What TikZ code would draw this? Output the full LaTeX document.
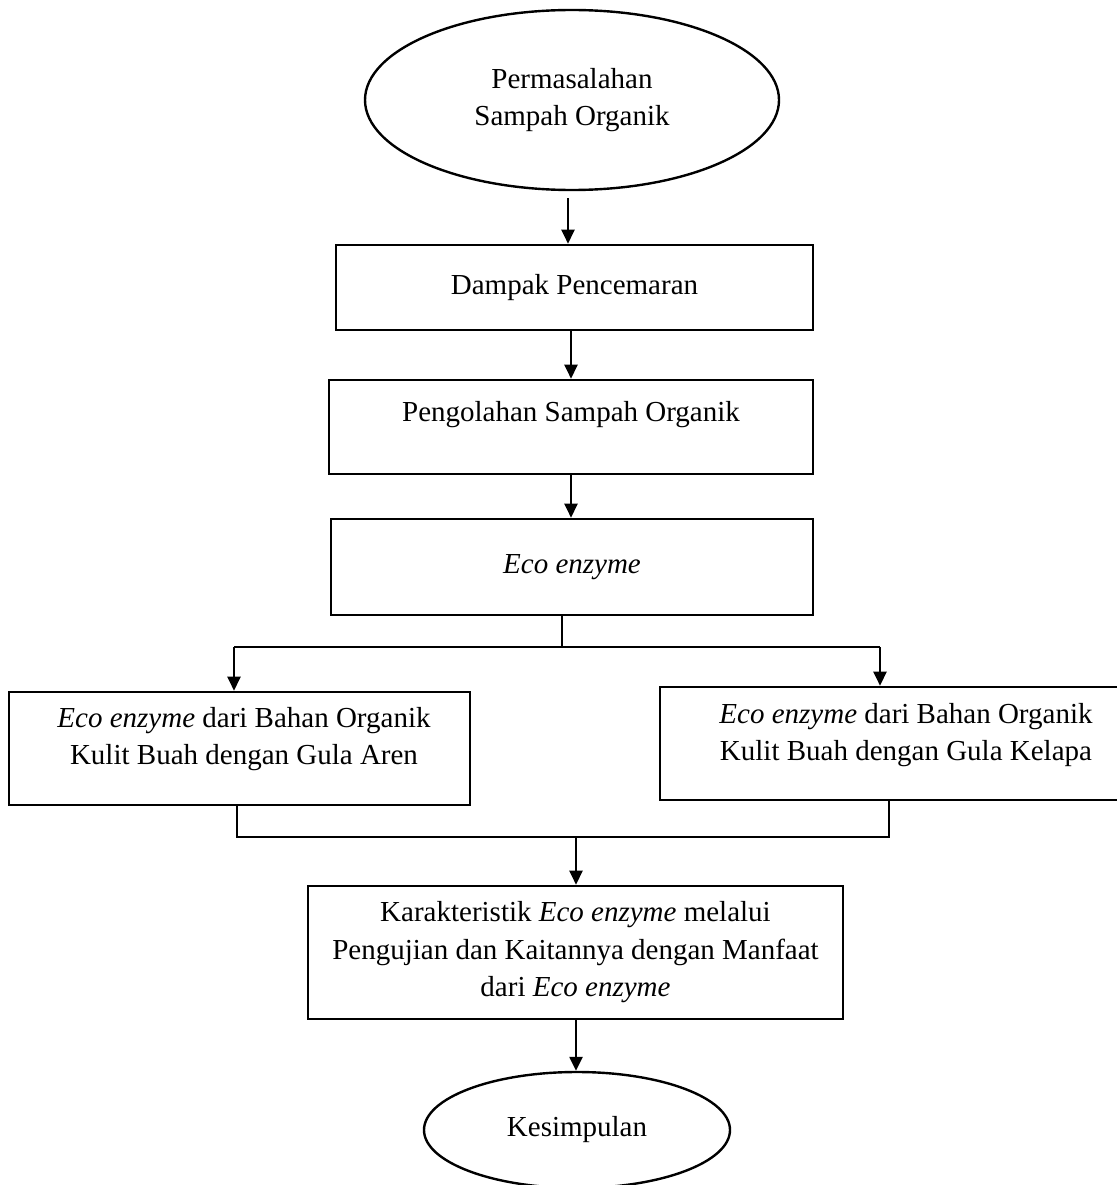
\documentclass[tikz,border=0pt]{standalone}
\usepackage{fontspec}
\setmainfont{Liberation Serif}
\usetikzlibrary{arrows.meta,shapes.geometric}
\begin{document}
\begin{tikzpicture}[x=1pt,y=-1pt,
  font=\fontsize{29}{37.5}\selectfont,
  box/.style={draw, line width=2.6pt, rectangle, inner sep=0pt, align=center},
  oval/.style={draw, line width=2.4pt, ellipse, inner sep=0pt, align=center},
  txt/.style={align=center, inner sep=0pt},
  arr/.style={line width=2.4pt, -{Triangle[length=14pt,width=13pt]}},
  thinline/.style={line width=1.3pt}]
\useasboundingbox (0,0) rectangle (1116,1185);

% nodes
\node[oval, minimum width=414pt, minimum height=180pt] (e1) at (572,100) {Permasalahan\\Sampah Organik};
\node[box, minimum width=477pt, minimum height=85pt] (dampak) at (574.5,287.5) {Dampak Pencemaran};
\node[box, minimum width=484pt, minimum height=94pt] (peng) at (571,427) {};
\node[txt] (pengt) at (571,415) {Pengolahan Sampah Organik};
\node[box, minimum width=482pt, minimum height=96pt] (eco) at (572,567) {\textit{Eco enzyme}};
\node[box, minimum width=461pt, minimum height=113pt] (left) at (239.5,748.5) {};
\node[txt] (leftt) at (244,739) {\textit{Eco enzyme} dari Bahan Organik\\Kulit Buah dengan Gula Aren};
\node[box, minimum width=492pt, minimum height=113pt] (right) at (906,743.5) {};
\node[txt] (rightt) at (906,735) {\textit{Eco enzyme} dari Bahan Organik\\Kulit Buah dengan Gula Kelapa};
\node[box, minimum width=535pt, minimum height=133pt] (bot) at (575.5,952.5) {Karakteristik \textit{Eco enzyme} melalui\\Pengujian dan Kaitannya dengan Manfaat\\dari \textit{Eco enzyme}};
\node[oval, minimum width=306pt, minimum height=116pt] (kes) at (577,1130) {Kesimpulan};

% helper coordinates
\coordinate (c1) at (568,198);
\coordinate (ax) at (571,0);
\coordinate (split) at (562,647);
\coordinate (lsplit) at (234,647);
\coordinate (rsplit) at (880,647);
\coordinate (ljoin) at (237,837);
\coordinate (rjoin) at (889,837);
\coordinate (mjoin) at (576,837);

% connectors
\draw[arr] (c1) -- (c1 |- dampak.north);
\draw[arr] (dampak.south -| ax) -- (peng.north -| ax);
\draw[arr] (peng.south -| ax) -- (eco.north -| ax);
\draw[thinline] (eco.south -| split) -- (split);
\draw[thinline] (lsplit) -- (rsplit);
\draw[arr] (lsplit) -- (lsplit |- left.north);
\draw[arr] (rsplit) -- (rsplit |- right.north);
\draw[thinline] (left.south -| ljoin) -- (ljoin) -- (rjoin) -- (right.south -| rjoin);
\draw[arr] (mjoin) -- (mjoin |- bot.north);
\draw[arr] (bot.south -| mjoin) -- (mjoin |- kes.north);
\end{tikzpicture}
\end{document}
